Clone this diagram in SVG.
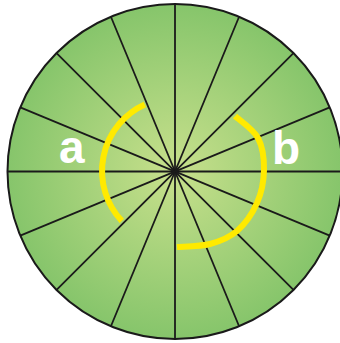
<svg xmlns="http://www.w3.org/2000/svg" width="340" height="343" viewBox="0 0 340 343">
<defs>
<radialGradient id="g" cx="175" cy="171.5" r="167.5" gradientUnits="userSpaceOnUse">
<stop offset="0" stop-color="#c8e08c"/>
<stop offset="1" stop-color="#86c56b"/>
</radialGradient>
</defs>
<style>
.spoke{stroke:#1a1a1a;stroke-width:1.8;fill:none}
.arc{stroke:#ffea00;stroke-width:6;fill:none}
.lbl{font-family:"Liberation Sans",Arial,sans-serif;font-weight:bold;font-size:46px;fill:#ffffff}
</style>
<g id="disc">
<circle cx="175" cy="171.5" r="167.5" fill="url(#g)" stroke="#1a1a1a" stroke-width="2"/>
</g>
<g id="spokes">
<line class="spoke" x1="7.5" y1="171.5" x2="342.5" y2="171.5"/>
<line class="spoke" x1="329.75" y1="235.6" x2="20.25" y2="107.4"/>
<line class="spoke" x1="293.44" y1="289.94" x2="56.56" y2="53.06"/>
<line class="spoke" x1="239.1" y1="326.25" x2="110.9" y2="16.75"/>
<line class="spoke" x1="175" y1="4" x2="175" y2="339"/>
<line class="spoke" x1="110.9" y1="326.25" x2="239.1" y2="16.75"/>
<line class="spoke" x1="56.56" y1="289.94" x2="293.44" y2="53.06"/>
<line class="spoke" x1="20.25" y1="235.6" x2="329.75" y2="107.4"/>
</g>
<g id="arc-a">
<path class="arc" d="M144.8,104.5 A73,73 0 0 0 121.8,220.9"/>
</g>
<g id="arc-b">
<path class="arc" d="M235,116 C238.8,119.7 253.2,129 258,138 C262.8,147 264.17,159.17 264,170 C263.83,180.83 261.5,192.8 257,203 C252.5,213.2 244.8,224.2 237,231 C229.2,237.8 220,241.3 210,244 C200,246.7 182.5,246.5 177,247"/>
</g>
<g id="label-a"><text class="lbl" x="59" y="163">a</text></g>
<g id="label-b"><text class="lbl" x="272" y="164">b</text></g>
</svg>
